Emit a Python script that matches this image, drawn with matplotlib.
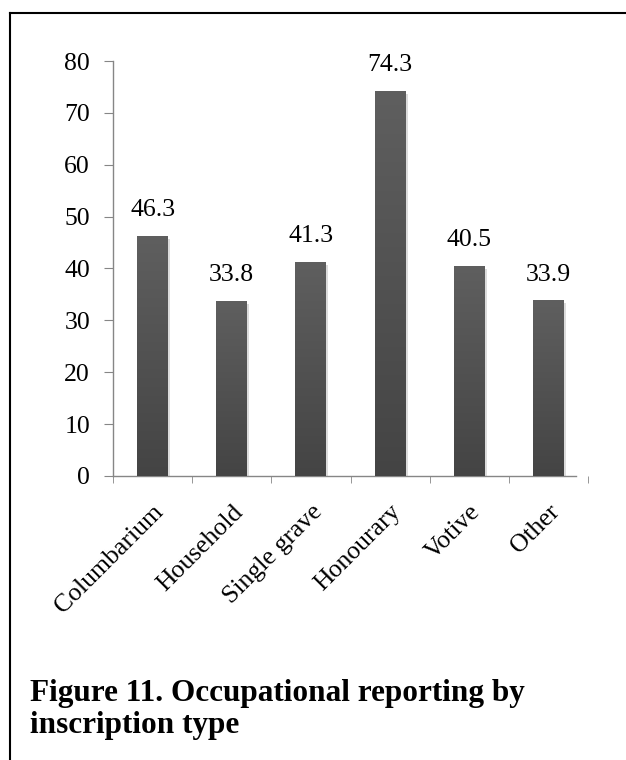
import numpy as np
import matplotlib.pyplot as plt
from matplotlib.colors import LinearSegmentedColormap
from matplotlib.lines import Line2D
from matplotlib.transforms import ScaledTranslation

categories = ["Columbarium", "Household", "Single grave", "Honourary", "Votive", "Other"]
values = [46.3, 33.8, 41.3, 74.3, 40.5, 33.9]
yticks = [0, 10, 20, 30, 40, 50, 60, 70, 80]
caption = "Figure 11. Occupational reporting by\ninscription type"

plt.rcParams['font.family'] = ['Liberation Serif', 'DejaVu Serif']

W, H = 626, 760
fig = plt.figure(figsize=(W / 100, H / 100), dpi=100)
ax = fig.add_axes([113 / W, 1 - 476 / H, (588 - 113) / W, (476 - 61) / H])

x = np.arange(len(categories))
bars = ax.bar(x, values, width=0.39, color='#555555', zorder=2)

# vertical gradient inside each bar, light at top, darker at bottom
cmap = LinearSegmentedColormap.from_list('g', ['#444444', '#5f5f5f'])
grad = np.linspace(0, 1, 256).reshape(-1, 1)
for b in bars:
    bx, bw, bh = b.get_x(), b.get_width(), b.get_height()
    # soft shadow
    ax.bar(bx + bw / 2 + 0.025, bh - 0.3, width=bw, bottom=-0.3,
           color='#bbbbbb', alpha=0.5, zorder=1)
    im = ax.imshow(grad, cmap=cmap, origin='lower', aspect='auto',
                   extent=[bx, bx + bw, 0, bh], zorder=3)
    im.set_clip_path(b)

for xi, v in zip(x, values):
    ax.annotate(f"{v:.1f}", (xi, v), xytext=(0, 14), textcoords='offset points',
                ha='center', va='baseline', fontsize=18.5)

ax.set_xlim(-0.5, 5.5)
ax.set_ylim(0, 80)
ax.set_yticks(yticks)
ax.set_yticklabels([str(t) for t in yticks], fontsize=18.5)

ax.set_xticks(x)
ax.set_xticklabels(categories, fontsize=18.5, rotation=45, ha='right', va='top',
                   rotation_mode='anchor')
shift = ScaledTranslation(-0.045, 0, fig.dpi_scale_trans)
for lab in ax.get_xticklabels():
    lab.set_transform(lab.get_transform() + shift)
ax.set_xticks(np.arange(-0.5, 6, 1), minor=True)
ax.tick_params(axis='x', which='major', length=0, pad=18)
ax.tick_params(axis='x', which='minor', length=5, color='#868686', direction='out')
ax.tick_params(axis='y', length=6.5, color='#868686', direction='out', pad=10)

for s in ['top', 'right']:
    ax.spines[s].set_visible(False)
for s in ['left', 'bottom']:
    ax.spines[s].set_color('#868686')
    ax.spines[s].set_linewidth(1.0)
ax.spines['bottom'].set_bounds(-0.5, 5.35)

# outer frame (top and left edges visible)
fig.add_artist(Line2D([10 / W, 10 / W], [0, 1 - 13 / H], transform=fig.transFigure,
                      color='black', lw=1.5))
fig.add_artist(Line2D([10 / W, 1], [1 - 13 / H, 1 - 13 / H], transform=fig.transFigure,
                      color='black', lw=1.5))

fig.text(30 / W, 1 - 733 / H, caption, fontsize=22.5, fontweight='bold',
         ha='left', va='baseline', linespacing=1.15)

fig.savefig('out.png', dpi=100)
